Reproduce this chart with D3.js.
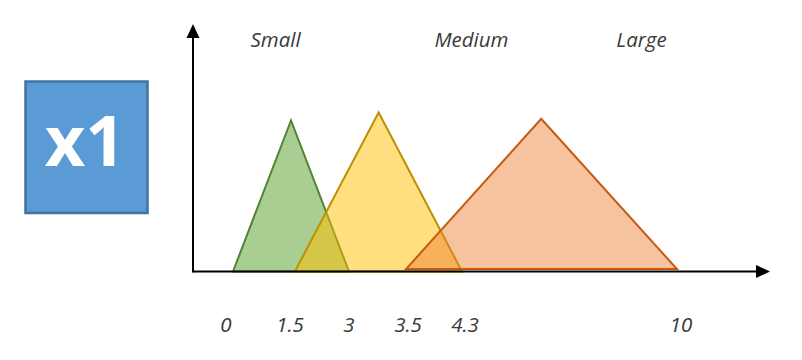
<!DOCTYPE html>
<html>
<head>
<meta charset="utf-8">
<script src="https://cdn.jsdelivr.net/npm/d3@7"></script>
<style>
  html, body { margin: 0; padding: 0; background: #fff; }
  svg { display: block; }
</style>
</head>
<body>
<svg id="chart" width="802" height="360"></svg>
<script>
// ---- data ----
const tickValues = [0, 1.5, 3, 3.5, 4.3, 10];
const tickLabels = ["0", "1.5", "3", "3.5", "4.3", "10"];
const categories = ["Small", "Medium", "Large"];
const categoryLabelAt = [1.1, 4.55, 9.06];
const smallPts  = [[0, 0], [1.5, 0.95], [3, 0]];
const mediumPts = [[1.6, 0], [3.26, 1.0], [4.3, 0]];
const largePts  = [[3.5, 0.015], [6.4, 0.96], [10, 0.015]];
const variableName = "x1";

// ---- layout ----
const svg = d3.select("#chart");
const tickPx = [233, 291, 349, 406, 462, 677];
const tickLabelDx = [-7, -1, 0, 2, 3, 4];
const x = d3.scaleLinear().domain(tickValues).range(tickPx);
const y = d3.scaleLinear().domain([0, 1]).range([271.5, 112.5]);

const axisX0 = 193, axisY = 271.5;

// variable box
svg.append("rect")
  .attr("x", 25.5).attr("y", 81.5).attr("width", 122).attr("height", 131.5)
  .attr("fill", "#5B9BD5").attr("stroke", "#41719C").attr("stroke-width", 2.5);
svg.append("text")
  .attr("x", 85).attr("y", 166)
  .attr("text-anchor", "middle")
  .attr("font-family", "'Open Sans', sans-serif")
  .attr("font-weight", "bold").attr("font-size", 70)
  .attr("fill", "#fff")
  .text(variableName);

// triangles
const styles = [
  { pts: smallPts,  fill: "#70AD47", op: 0.6,  stroke: "#548235" },
  { pts: mediumPts, fill: "#FFC000", op: 0.5,  stroke: "#BF9000" },
  { pts: largePts,  fill: "#ED7D31", op: 0.47, stroke: "#C55A11" }
];
const line = d3.line().x(d => x(d[0])).y(d => y(d[1])).curve(d3.curveLinearClosed);
styles.forEach(s => {
  svg.append("path")
    .attr("d", line(s.pts))
    .attr("fill", s.fill).attr("fill-opacity", s.op)
    .attr("stroke", s.stroke).attr("stroke-width", 2)
    .attr("stroke-linejoin", "miter");
});

// axes
svg.append("line")
  .attr("x1", axisX0).attr("y1", axisY).attr("x2", 757).attr("y2", axisY)
  .attr("stroke", "#000").attr("stroke-width", 2);
svg.append("path")
  .attr("d", `M770,${axisY} L756,${axisY - 6.5} L756,${axisY + 6.5} Z`)
  .attr("fill", "#000");
svg.append("line")
  .attr("x1", axisX0).attr("y1", axisY + 1).attr("x2", axisX0).attr("y2", 37)
  .attr("stroke", "#000").attr("stroke-width", 2);
svg.append("path")
  .attr("d", `M${axisX0},24 L${axisX0 - 6.5},38 L${axisX0 + 6.5},38 Z`)
  .attr("fill", "#000");

// tick labels
svg.append("g").selectAll("text")
  .data(tickValues)
  .join("text")
  .attr("x", (d, i) => x(d) + tickLabelDx[i])
  .attr("y", 332)
  .attr("text-anchor", "middle")
  .attr("font-family", "'Open Sans', sans-serif")
  .attr("font-style", "italic")
  .attr("font-size", 20.5)
  .attr("fill", "#3a3a3a")
  .text((d, i) => tickLabels[i]);

// category labels
svg.append("g").selectAll("text")
  .data(categories)
  .join("text")
  .attr("x", (d, i) => x(categoryLabelAt[i]))
  .attr("y", 47)
  .attr("text-anchor", "middle")
  .attr("font-family", "'Open Sans', sans-serif")
  .attr("font-style", "italic")
  .attr("font-size", 20.5)
  .attr("fill", "#3a3a3a")
  .text(d => d);
</script>
</body>
</html>
